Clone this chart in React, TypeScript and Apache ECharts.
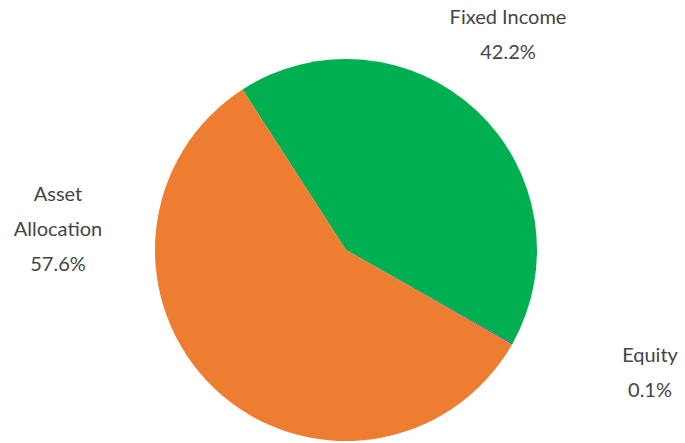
import React, { useEffect, useRef } from "react";
import * as echarts from "echarts";

const categories = ["Fixed Income", "Equity", "Asset Allocation"];
const values = [42.2, 0.1, 57.6];
const colors = ["#00B050", "#2F4F8F", "#ED7D31"];
const labelTexts = ["Fixed Income", "Equity", "Asset\nAllocation"];
const labelAnchors: [number, number][] = [
  [508, 33],
  [650, 371],
  [58, 228],
];

export default function App() {
  const ref = useRef<HTMLDivElement>(null);
  useEffect(() => {
    document.body.style.margin = "0";
    const chart = echarts.init(ref.current!, undefined, { renderer: "svg" });
    chart.setOption({
      animation: false,
      backgroundColor: "#ffffff",
      series: [
        {
          type: "pie",
          center: [346, 250],
          radius: [0, 191],
          startAngle: 122.8,
          clockwise: true,
          data: categories.map((c, i) => ({
            name: c,
            value: values[i],
            itemStyle: { color: colors[i] },
          })),
          label: {
            show: true,
            position: "outside",
            formatter: (p: any) => `${labelTexts[p.dataIndex]}\n${p.value.toFixed(1)}%`,
            color: "#454545",
            fontFamily: "Lato, 'Noto Sans', sans-serif",
            fontSize: 20,
            lineHeight: 35,
            align: "center",
          },
          labelLine: { show: false },
          labelLayout: (params: any) => {
            const [x, y] = labelAnchors[params.dataIndex];
            return { x, y, align: "center", verticalAlign: "middle" };
          },
          emphasis: { disabled: true },
        },
      ],
    });
    return () => chart.dispose();
  }, []);
  return <div ref={ref} style={{ width: 685, height: 443 }} />;
}
